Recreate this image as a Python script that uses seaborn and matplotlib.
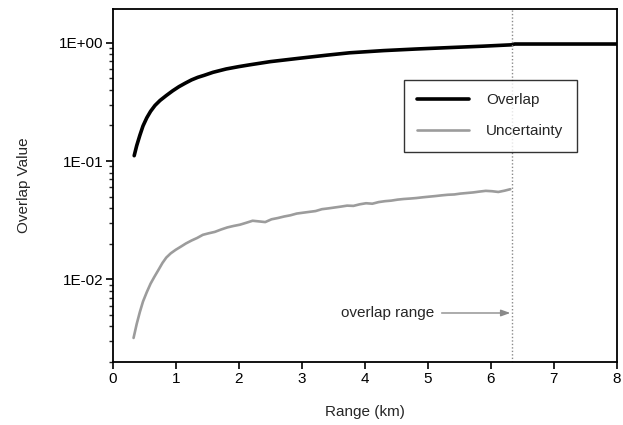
import matplotlib
matplotlib.use("Agg")
import matplotlib.pyplot as plt
import seaborn as sns
import pandas as pd
from matplotlib.ticker import LogLocator, FixedLocator, FixedFormatter, NullFormatter

# ---- data ----
overlap_x = [0.34, 0.38, 0.43, 0.48, 0.54, 0.60, 0.67, 0.75, 0.85, 0.95, 1.05, 1.15,
             1.25, 1.35, 1.45, 1.59, 1.80, 2.00, 2.17, 2.50, 2.97, 3.40, 3.76, 4.30,
             4.82, 5.35, 5.88, 6.33, 6.38, 8.00]
overlap_y = [0.111, 0.135, 0.165, 0.198, 0.232, 0.263, 0.295, 0.325, 0.358, 0.392,
             0.425, 0.455, 0.485, 0.510, 0.530, 0.562, 0.600, 0.628, 0.650, 0.692,
             0.740, 0.785, 0.822, 0.858, 0.885, 0.910, 0.935, 0.960, 0.975, 0.975]

unc_x = [0.33, 0.38, 0.43, 0.48, 0.54, 0.60, 0.66, 0.72, 0.79, 0.85, 0.92, 1.00,
         1.08, 1.16, 1.25, 1.34, 1.43, 1.52, 1.62, 1.72, 1.82, 1.92, 2.02, 2.12,
         2.22, 2.32, 2.42, 2.52, 2.62, 2.72, 2.82, 2.92, 3.02, 3.12, 3.22, 3.32,
         3.42, 3.52, 3.62, 3.72, 3.82, 3.92, 4.02, 4.12, 4.22, 4.32, 4.42, 4.52,
         4.62, 4.72, 4.82, 4.92, 5.02, 5.12, 5.22, 5.32, 5.42, 5.52, 5.62, 5.72,
         5.82, 5.92, 6.02, 6.12, 6.22, 6.31]
unc_y = [0.0032, 0.0042, 0.0053, 0.0065, 0.0078, 0.0092, 0.0105, 0.0119, 0.0138,
         0.0153, 0.0166, 0.0178, 0.0189, 0.0201, 0.0213, 0.0224, 0.0238, 0.0245,
         0.0252, 0.0264, 0.0275, 0.0283, 0.0290, 0.0301, 0.0313, 0.0309, 0.0305,
         0.0322, 0.0330, 0.0340, 0.0348, 0.0360, 0.0366, 0.0372, 0.0378, 0.0392,
         0.0398, 0.0405, 0.0412, 0.0420, 0.0418, 0.0431, 0.0440, 0.0436, 0.0450,
         0.0458, 0.0463, 0.0472, 0.0478, 0.0482, 0.0487, 0.0494, 0.0500, 0.0506,
         0.0513, 0.0519, 0.0522, 0.0531, 0.0537, 0.0543, 0.0552, 0.0560, 0.0556,
         0.0548, 0.0562, 0.0578]

overlap_range_km = 6.33
arrow_y = 5.2e-3
x_ticks = [0, 1, 2, 3, 4, 5, 6, 7, 8]
y_ticks = [1e-2, 1e-1, 1e0]
y_tick_labels = ["1E-02", "1E-01", "1E+00"]

# ---- style ----
sns.set_style("ticks")
plt.rcParams["font.family"] = ["Liberation Sans", "DejaVu Sans"]
plt.rcParams["font.size"] = 11

fig = plt.figure(figsize=(6.23, 4.25), dpi=100)
ax = fig.add_axes([0.181, 0.148, 0.809, 0.831])

df_o = pd.DataFrame({"x": overlap_x, "y": overlap_y})
df_u = pd.DataFrame({"x": unc_x, "y": unc_y})

sns.lineplot(data=df_o, x="x", y="y", ax=ax, color="black", linewidth=2.6,
             label="Overlap", sort=False, estimator=None)
sns.lineplot(data=df_u, x="x", y="y", ax=ax, color="#9c9c9c", linewidth=1.9,
             label="Uncertainty", sort=False, estimator=None)

ax.axvline(overlap_range_km, color="#8a8a8a", linestyle=(0, (1, 1.5)), linewidth=1.0)

ax.text(5.11, arrow_y, "overlap range", ha="right", va="center", fontsize=11)
ax.annotate("", xy=(overlap_range_km - 0.02, arrow_y), xytext=(5.22, arrow_y),
            arrowprops=dict(arrowstyle="-|>,head_length=0.5,head_width=0.18",
                            color="#8a8a8a", lw=1.0, shrinkA=0, shrinkB=0))

ax.set_yscale("log")
ax.set_xlim(0, 8)
ax.set_ylim(2e-3, 1.93)

ax.xaxis.set_major_locator(FixedLocator(x_ticks))
ax.set_xticklabels([str(t) for t in x_ticks])
ax.yaxis.set_major_locator(FixedLocator(y_ticks))
ax.yaxis.set_major_formatter(FixedFormatter(y_tick_labels))
ax.yaxis.set_minor_locator(LogLocator(base=10, subs=range(2, 10)))
ax.yaxis.set_minor_formatter(NullFormatter())

ax.tick_params(axis="both", which="major", direction="out", length=5, width=1.2,
               labelsize=11, colors="black", pad=2)
ax.tick_params(axis="y", which="minor", direction="out", length=3, width=1.0)
for s in ax.spines.values():
    s.set_visible(True)
    s.set_color("black")
    s.set_linewidth(1.3)

ax.set_xlabel("Range (km)", fontsize=11, labelpad=14)
ax.set_ylabel("Overlap Value", fontsize=11, labelpad=20)

leg = ax.legend(loc="upper left", bbox_to_anchor=(0.577, 0.80), frameon=True,
                fancybox=False, edgecolor="black", fontsize=11, handlelength=3.4,
                handletextpad=1.1, labelspacing=1.1, borderpad=0.9, borderaxespad=0)
leg.get_frame().set_linewidth(1.0)

fig.savefig("out.png", dpi=100)
